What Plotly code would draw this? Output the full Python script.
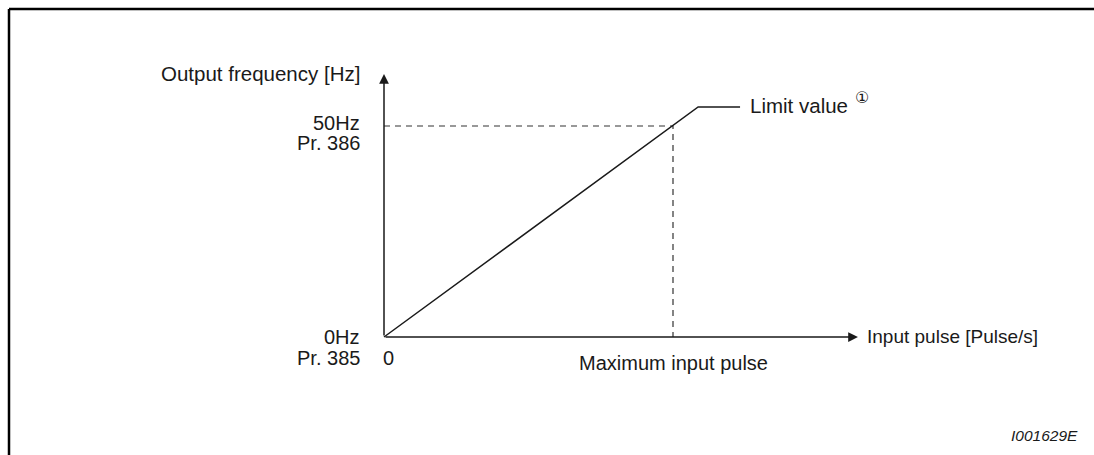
import plotly.graph_objects as go

# Data (normalized input pulse, output frequency in Hz)
pulse_max = 1.0
freq_max = 50
limit_x = [0, 1.087, 1.232]
limit_y = [0, 54.5, 54.5]
axis_x_end = 1.64
axis_y_end = 62.3

y_label_50 = ["50Hz", "Pr. 386"]
y_label_0 = ["0Hz", "Pr. 385"]
x_label_zero = "0"
x_title = "Input pulse [Pulse/s]"
y_title = "Output frequency [Hz]"
max_label = "Maximum input pulse"
limit_label = "Limit value"
note_mark = "①"
code_label = "I001629E"

FONT = "Liberation Sans, Arial, sans-serif"
C = "#1a1a1a"

fig = go.Figure()
fig.add_trace(go.Scatter(x=[0, pulse_max, pulse_max], y=[freq_max, freq_max, 0], mode="lines",
                         line=dict(color="#333333", width=1.2, dash="6px,5px"), hoverinfo="skip"))
fig.add_trace(go.Scatter(x=limit_x, y=limit_y, mode="lines",
                         line=dict(color=C, width=1.5), hoverinfo="skip"))

anns = []
anns.append(dict(x=axis_x_end, y=0, ax=0, ay=0, xref="x", yref="y", axref="x", ayref="y",
                 showarrow=True, arrowhead=2, arrowsize=1.3, arrowwidth=1.5, arrowcolor=C, text=""))
anns.append(dict(x=0, y=axis_y_end, ax=0, ay=0, xref="x", yref="y", axref="x", ayref="y",
                 showarrow=True, arrowhead=2, arrowsize=1.3, arrowwidth=1.5, arrowcolor=C, text=""))


def txt(x, y, t, xa, ya="middle", xshift=0, yshift=0, size=19, italic=False, family=FONT):
    anns.append(dict(x=x, y=y, xref="x", yref="y", text=t, showarrow=False,
                     xanchor=xa, yanchor=ya, xshift=xshift, yshift=yshift,
                     font=dict(family=family, size=size, color=C,
                               style="italic" if italic else "normal")))


txt(0, axis_y_end, y_title, "right", "middle", xshift=-22, yshift=1, size=20.5)
txt(0, freq_max, y_label_50[0], "right", "middle", xshift=-22, yshift=3, size=20)
txt(0, freq_max, y_label_50[1], "right", "middle", xshift=-22, yshift=-17, size=20)
txt(0, 0, y_label_0[0], "right", "middle", xshift=-22, yshift=0, size=20)
txt(0, 0, y_label_0[1], "right", "middle", xshift=-22, yshift=-21, size=20)
txt(0, 0, x_label_zero, "center", "middle", xshift=4, yshift=-21, size=20)
txt(axis_x_end, 0, x_title, "left", "middle", xshift=7, yshift=1, size=19)
txt(pulse_max, 0, max_label, "center", "middle", yshift=-26, size=20)
txt(limit_x[-1], limit_y[-1], limit_label, "left", "middle", xshift=8, yshift=2, size=20.5)
txt(limit_x[-1], limit_y[-1], note_mark, "left", "middle", xshift=113, yshift=10, size=16,
    family="DejaVu Sans, sans-serif")

fig.update_layout(
    annotations=anns,
    width=1094, height=455,
    margin=dict(l=0, r=0, t=0, b=0),
    plot_bgcolor="white", paper_bgcolor="white",
    showlegend=False,
    xaxis=dict(range=[-384/289, (1094-384)/289], visible=False, fixedrange=True),
    yaxis=dict(range=[-(455-337)/4.22, 337/4.22], visible=False, fixedrange=True),
    shapes=[
        dict(type="line", xref="paper", yref="paper", x0=9/1094, x1=1, y0=1-9/455, y1=1-9/455,
             line=dict(color="black", width=2.5)),
        dict(type="line", xref="paper", yref="paper", x0=9/1094, x1=9/1094, y0=0, y1=1-9/455,
             line=dict(color="black", width=2.5)),
    ],
)
fig.add_annotation(x=1, y=0, xref="paper", yref="paper", xanchor="right", yanchor="bottom",
                   xshift=-14, yshift=9, text=code_label, showarrow=False,
                   font=dict(family=FONT, size=15.5, color=C, style="italic"))

fig.write_html("out.html", config={"displayModeBar": False},
               post_script="document.body.style.margin='0px';document.body.style.overflow='hidden';")
